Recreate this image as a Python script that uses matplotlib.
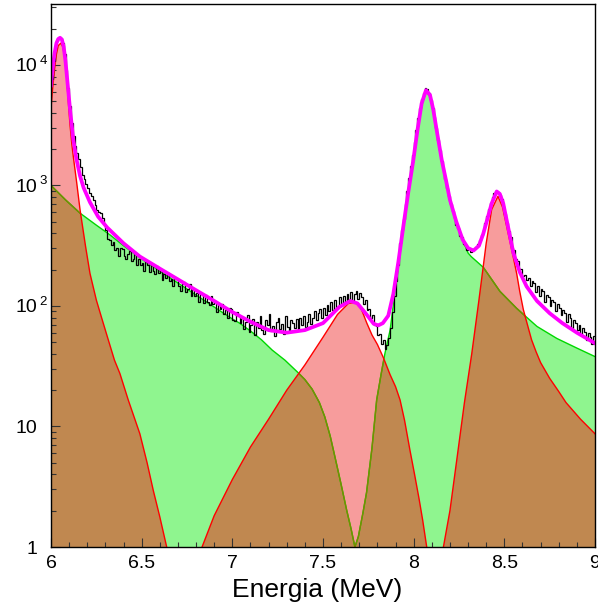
import numpy as np
import matplotlib
matplotlib.use('Agg')
import matplotlib.pyplot as plt
from matplotlib.patches import Polygon
from matplotlib.ticker import MultipleLocator, LogLocator, NullFormatter
import matplotlib.transforms as mtransforms

plt.rcParams['font.family'] = ['Liberation Sans', 'DejaVu Sans']

# ---------------- data ----------------
# histogram (bins of 0.01 MeV from 6.00 to 9.00)
hist_lo, hist_hi = 6.0, 9.0
hist_counts = [
    # 6.005 - 6.295
    7590, 10715, 13804, 15849, 16788, 16596, 15136, 12303, 9120, 6457,
    4571, 3311, 2570, 2138, 1862, 1650, 1413, 1230, 1122, 1023,
    955, 871, 813, 760, 692, 630, 603, 590, 535, 479,
    # 6.305 - 7.045
    425, 360, 355, 322, 338, 290, 305, 262, 300, 298,
    262, 245, 272, 284, 236, 244, 272, 220, 246, 218,
    229, 195, 232, 220, 190, 222, 194, 183, 216, 188,
    200, 165, 185, 171, 187, 160, 168, 145, 171, 168,
    146, 134, 151, 157, 130, 137, 152, 122, 137, 121,
    128, 108, 129, 124, 105, 124, 107, 101, 120, 104,
    110, 89, 103, 94, 104, 86, 92, 79, 96, 94,
    77, 75, 89, 84, 72,
    # 7.055 - 7.345
    80, 64, 74, 84, 61, 70, 78, 57, 73, 66,
    82, 63, 59, 76, 70, 85, 62, 68, 56, 74,
    79, 64, 71, 58, 83, 67, 61, 77, 72, 65,
    # 7.355 - 7.865
    78, 64, 80, 70, 83, 67, 73, 86, 71, 80,
    90, 76, 88, 95, 79, 97, 84, 101, 90, 107,
    92, 111, 96, 99, 118, 101, 121, 107, 125, 112,
    130, 109, 126, 133, 114, 128, 119, 104, 112, 92,
    95, 80, 84, 70, 68, 57, 58, 48, 52, 44,
    47, 54,
    # 7.875 - 8.625
    65, 89, 120, 160, 220, 330, 430, 525, 700, 900,
    1150, 1450, 1800, 2300, 2900, 3600, 4400, 5200, 5900, 6400,
    6300, 5900, 5100, 4400, 3700, 3000, 2400, 1950, 1600, 1330,
    1120, 950, 810, 700, 610, 540, 470, 445, 380, 372,
    325, 322, 292, 298, 281, 296, 296, 308, 325, 350,
    385, 430, 490, 560, 640, 720, 800, 860, 890, 880,
    840, 770, 680, 580, 490, 420, 370, 305, 290, 244,
    236, 204, 201, 178, 180, 165,
    # 8.635 - 8.995
    170, 147, 162, 156, 131, 146, 122, 138, 133, 108,
    124, 118, 99, 113, 107, 91, 103, 96, 84, 93,
    88, 74, 85, 79, 66, 77, 72, 63, 70, 57,
    65, 61, 52, 60, 55, 48, 56,
]

# total fit (magenta)
fit_x = [6.00, 6.01, 6.02, 6.03, 6.04, 6.05, 6.06, 6.07, 6.08, 6.09,
         6.105, 6.123, 6.14, 6.16, 6.18, 6.215, 6.26, 6.31, 6.40, 6.49,
         6.60, 6.70, 6.80, 6.90, 7.00, 7.10, 7.20, 7.30, 7.40, 7.50,
         7.59, 7.65, 7.69, 7.74, 7.78, 7.805, 7.83, 7.86, 7.888, 7.915,
         7.943, 7.97, 7.998, 8.02, 8.044, 8.068, 8.09, 8.108, 8.13, 8.155,
         8.18, 8.20, 8.235, 8.27, 8.30, 8.33, 8.36, 8.384, 8.41, 8.43,
         8.458, 8.475, 8.494, 8.52, 8.55, 8.585, 8.623, 8.68, 8.75, 8.82,
         8.90, 9.00]
fit_y = [6761, 9550, 12589, 15136, 16406, 16788, 16218, 14125, 10715, 7413,
         4266, 2399, 1660, 1202, 955, 724, 550, 447, 331, 257,
         204, 166, 135, 110, 89, 74, 63, 60, 63, 72,
         98, 110, 105, 85, 71, 69, 72, 83, 126, 229,
         457, 871, 1622, 2818, 4786, 6166, 5623, 4266, 2692, 1622,
         1072, 759, 501, 355, 302, 288, 316, 398, 550, 708,
         891, 851, 708, 457, 275, 191, 145, 110, 87, 72,
         60, 49]

# components (red = alpha lines, green = background/other lines)
red1_x = [6.000, 6.010, 6.020, 6.030, 6.040, 6.054, 6.065, 6.075, 6.085, 6.095,
          6.105, 6.115, 6.123, 6.142, 6.160, 6.190, 6.215, 6.250, 6.280, 6.310,
          6.350, 6.380, 6.426, 6.490, 6.530, 6.564, 6.600, 6.638]
red1_y = [4365, 6607, 9333, 12303, 14454, 15136, 14125, 11749, 8511, 5012,
          3162, 2188, 1738, 1047, 631, 316, 186, 112, 79, 56,
          35.5, 27.5, 16.6, 8.7, 5.0, 2.95, 1.78, 1.0]

green1_x = [6.00, 6.08, 6.16, 6.25, 6.325, 6.40, 6.50, 6.60, 6.70, 6.80,
            6.90, 7.00, 7.04, 7.10, 7.16, 7.22, 7.29, 7.36, 7.40, 7.44,
            7.48, 7.51, 7.54, 7.57, 7.60, 7.63, 7.655, 7.676]
green1_y = [1000, 759, 589, 468, 389, 316, 245, 195, 155, 123,
            98, 78, 72, 62, 52.5, 43, 35.5, 28.2, 24.5, 20.4,
            15.8, 12.0, 8.3, 5.25, 3.3, 2.04, 1.41, 1.0]

red2_x = [6.833, 6.90, 7.00, 7.10, 7.20, 7.30, 7.40, 7.50, 7.58, 7.64,
          7.68, 7.71, 7.741, 7.77, 7.80, 7.833, 7.87, 7.90, 7.925, 7.95,
          7.98, 8.005, 8.03, 8.05, 8.072]
red2_y = [1.0, 1.82, 3.63, 6.76, 11.5, 20, 32.4, 55, 85, 105,
          107, 95.5, 72.4, 57.5, 47.9, 37.2, 26.9, 21.4, 16.6, 11.2,
          6.3, 4.0, 2.5, 1.66, 1.0]

green2_x = [7.676, 7.695, 7.72, 7.74, 7.77, 7.796, 7.82, 7.842, 7.87, 7.90,
            7.943, 7.97, 8.00, 8.02, 8.044, 8.068, 8.09, 8.11, 8.13, 8.155,
            8.18, 8.20, 8.25, 8.30, 8.317, 8.384, 8.476, 8.568, 8.68, 8.79,
            8.90, 9.00]
green2_y = [1.0, 1.22, 1.91, 2.82, 6.6, 16.6, 26.9, 40.7, 63, 141,
            437, 851, 1585, 2692, 4571, 6026, 5495, 4074, 2630, 1585,
            1047, 750, 417, 275, 257, 209, 132, 95.5, 67.6, 53.7,
            44.7, 38]

red3_x = [8.164, 8.20, 8.24, 8.28, 8.32, 8.36, 8.40, 8.43, 8.465, 8.49,
          8.51, 8.53, 8.55, 8.568, 8.585, 8.605, 8.63, 8.65, 8.675, 8.70,
          8.75, 8.80, 8.84, 8.92, 9.00]
red3_y = [1.0, 2.0, 5.6, 15.8, 39.8, 112, 331, 631, 813, 661,
          479, 347, 251, 186, 132, 93, 67.6, 52.5, 41.7, 33.9,
          25.1, 19.5, 15.8, 11.5, 8.7]

xtick_vals = [6, 6.5, 7, 7.5, 8, 8.5, 9]
xtick_labels = ['6', '6.5', '7', '7.5', '8', '8.5', '9']
ytick_vals = [1, 10, 100, 1000, 10000]
ytick_base = ['1', '10', '10', '10', '10']
ytick_exp = ['', '', '2', '3', '4']
x_title = 'Energia (MeV)'

# ---------------- figure ----------------
W, H = 598, 605
fig = plt.figure(figsize=(W / 100, H / 100), dpi=100)
ax = fig.add_axes([51 / W, 58 / H, 544 / W, 543 / H])
ax.set_yscale('log')
ax.set_xlim(6, 9)
ax.set_ylim(1, 3.2e4)

PINK = '#f79c9c'
LGREEN = '#8ff58f'
BROWN = '#c08850'
RED = '#ff0000'
GREEN = '#00d800'
OLIVE = '#7a8a00'
BASE = 0.3


def poly_xy(x, y):
    xs = [x[0]] + list(x) + [x[-1]]
    ys = [BASE] + list(y) + [BASE]
    return np.column_stack([xs, ys])


reds = [(red1_x, red1_y), (red2_x, red2_y), (red3_x, red3_y)]
greens = [(green1_x, green1_y), (green2_x, green2_y)]

red_patches = []
for x, y in reds:
    p = Polygon(poly_xy(x, y), closed=True, facecolor=PINK, edgecolor='none', zorder=1)
    ax.add_patch(p)
    red_patches.append(p)
for x, y in greens:
    p = Polygon(poly_xy(x, y), closed=True, facecolor=LGREEN, edgecolor='none', zorder=1.1)
    ax.add_patch(p)
# overlap regions (brown): green shapes clipped to red shapes
for x, y in greens:
    for rp in red_patches:
        p = Polygon(poly_xy(x, y), closed=True, facecolor=BROWN, edgecolor='none', zorder=1.2)
        ax.add_patch(p)
        p.set_clip_path(rp)

# edges
for x, y in greens:
    ax.plot(x, y, color=GREEN, lw=1.0, zorder=2)
    for rp in red_patches:
        ln, = ax.plot(x, y, color=OLIVE, lw=1.0, zorder=2.1)
        ln.set_clip_path(rp)
for x, y in reds:
    ax.plot(x, y, color=RED, lw=1.0, zorder=2.2)

# histogram
edges = np.linspace(hist_lo, hist_hi, len(hist_counts) + 1)
ax.stairs(hist_counts, edges, baseline=None, color='black', lw=0.9, zorder=3)

# total fit
ax.plot(fit_x, fit_y, color='#ff00ff', lw=2.7, zorder=4, solid_joinstyle='round')

# axes styling
for s in ax.spines.values():
    s.set_linewidth(1.0)
    s.set_color('black')
    s.set_zorder(5)
ax.set_xticks(xtick_vals)
ax.set_xticklabels(xtick_labels, fontsize=14)
ax.xaxis.set_minor_locator(MultipleLocator(0.1))
ax.yaxis.set_major_locator(LogLocator(base=10))
ax.yaxis.set_minor_locator(LogLocator(base=10, subs=np.arange(2, 10)))
ax.yaxis.set_major_formatter(NullFormatter())
ax.yaxis.set_minor_formatter(NullFormatter())
ax.tick_params(which='both', direction='in', top=False, right=False, width=0.8,
               color='#333333')
ax.tick_params(which='major', length=6.5)
ax.tick_params(which='minor', length=3.3)
ax.tick_params(axis='x', which='major', pad=5.5, labelsize=14)
ax.tick_params(axis='y', labelleft=False)

trans = mtransforms.blended_transform_factory(ax.transAxes, ax.transData)
trans_sup = mtransforms.offset_copy(trans, fig=fig, x=0, y=1, units='dots')
for v, b, e in zip(ytick_vals, ytick_base, ytick_exp):
    ax.text(-14 / 544, v, b, transform=trans, ha='right', va='center_baseline',
            fontsize=14, clip_on=False)
    if e:
        ax.text(-11.5 / 544, v, e, transform=trans_sup, ha='left', va='baseline',
                fontsize=9.5, clip_on=False)

ax.set_xlabel(x_title, fontsize=19)
ax.xaxis.set_label_coords(0.49, -50 / 543)
ax.xaxis.label.set_verticalalignment('baseline')

fig.savefig('out.png', dpi=100)
